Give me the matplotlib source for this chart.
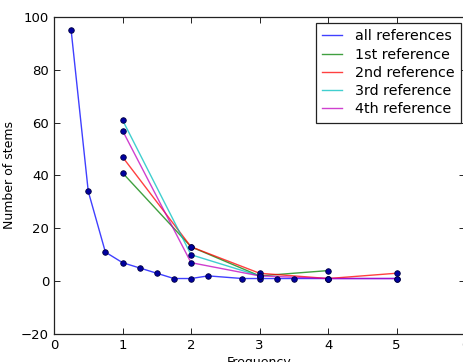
import matplotlib
matplotlib.use("Agg")
import matplotlib.pyplot as plt

# datos
x_all = [0.25, 0.5, 0.75, 1, 1.25, 1.5, 1.75, 2, 2.25, 2.75, 3, 3.25, 3.5, 4, 5]
y_all = [95, 34, 11, 7, 5, 3, 1, 1, 2, 1, 1, 1, 1, 1, 1]

x_ref1 = [1, 2, 3, 4]
y_ref1 = [41, 13, 2, 4]

x_ref2 = [1, 2, 3, 4, 5]
y_ref2 = [47, 13, 3, 1, 3]

x_ref3 = [1, 2, 3]
y_ref3 = [61, 10, 2]

x_ref4 = [1, 2, 3, 4, 5]
y_ref4 = [57, 7, 2, 1, 1]

series = [
    (x_all, y_all, "all references", "b"),
    (x_ref1, y_ref1, "1st reference", "g"),
    (x_ref2, y_ref2, "2nd reference", "r"),
    (x_ref3, y_ref3, "3rd reference", "c"),
    (x_ref4, y_ref4, "4th reference", "m"),
]

fig = plt.figure(figsize=(4.63, 3.62), dpi=100)
ax = fig.add_axes([0.1166, 0.0773, 0.888, 0.876])

for xs, ys, nombre, col in series:
    ax.plot(xs, ys, color=col, lw=1, alpha=0.75, label=nombre)

# puntos encima de las lineas
for xs, ys, nombre, col in series:
    ax.plot(xs, ys, "o", ms=4, mfc="#0000a0", mec="#000040", mew=0.6, ls="none")

ax.set_xlim(0, 6)
ax.set_ylim(-20, 100)
ax.set_xticks(range(0, 7))
ax.set_yticks(range(-20, 101, 20))
ax.tick_params(direction="in", top=True, right=True, labelsize=9.5, length=4, width=0.6)
for s in ax.spines.values():
    s.set_linewidth(0.9)
    s.set_color("#222222")
ax.set_xlabel("Frequency", fontsize=9, labelpad=3)
ax.set_ylabel("Number of stems", fontsize=9, labelpad=4)

ax.legend(loc="upper right", bbox_to_anchor=(0.996, 0.937), bbox_transform=fig.transFigure,
          borderaxespad=0, fontsize=10.3, fancybox=False, edgecolor="#222222", framealpha=1,
          handlelength=1.4, handletextpad=0.9, borderpad=0.45, labelspacing=0.3)
leg = ax.get_legend()
leg.get_frame().set_linewidth(0.9)

fig.savefig("out.png", dpi=100)
